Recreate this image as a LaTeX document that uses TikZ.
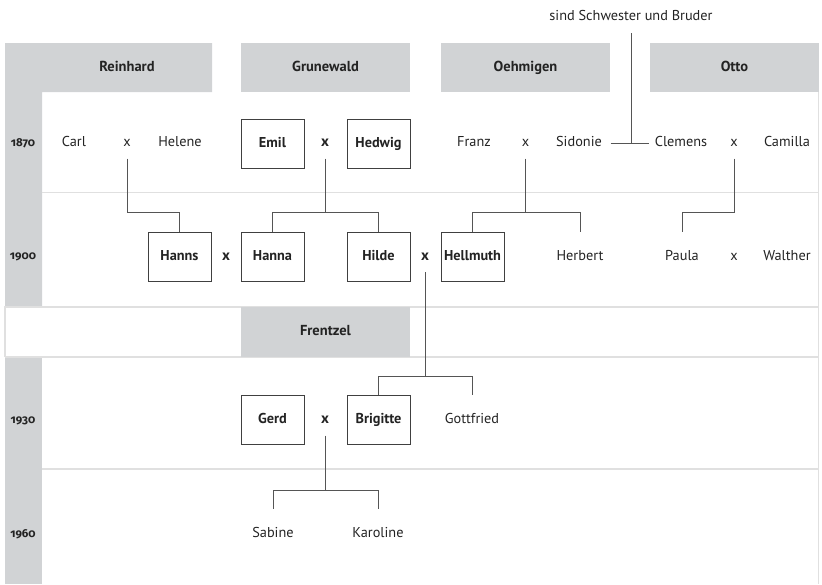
\documentclass[tikz,border=0pt]{standalone}
\usepackage{fontspec}
\setmainfont{PT Sans}
\newfontfamily\yearfont[Numbers=OldStyle]{Fira Sans}
\usepackage{tikz}
\usetikzlibrary{positioning,calc}
\definecolor{headgray}{RGB}{209,211,213}
\definecolor{rulegray}{RGB}{224,224,224}
\definecolor{linkgray}{RGB}{85,85,85}
\definecolor{namecol}{RGB}{35,35,35}

\begin{document}
\begin{tikzpicture}[x=1pt,y=-1pt,
	every node/.style={font=\fontsize{14.3}{16}\selectfont,text=namecol,text height=10pt,text depth=3pt},
	person/.style={minimum width=63pt,minimum height=49pt,inner sep=0pt},
	boxed/.style={person,draw=black!75,line width=0.9pt,font=\fontsize{14.3}{16}\selectfont\bfseries},
	marry/.style={minimum height=31pt,inner sep=0pt},
	bmarry/.style={marry,font=\fontsize{15}{16}\selectfont\bfseries},
	head/.style={fill=headgray,minimum width=169pt,minimum height=49pt,inner sep=0pt,font=\fontsize{14.5}{16}\selectfont\bfseries},
	year/.style={font=\yearfont\bfseries\fontsize{11.5}{13}\selectfont,text height=8pt,text depth=2pt},
	rule/.style={draw=rulegray,line width=1.2pt},
	link/.style={draw=linkgray,line width=0.8pt}
	]
	\useasboundingbox (0,0) rectangle (822,584);
	
	% the grey bands
	\fill[headgray] (5,43) -- (212,43) -- (212,92) -- (42,92) -- (42,307) -- (5,307) -- cycle;
	\fill[headgray] (5,357) rectangle (42,584);
	
	% the rules
	\draw[rule] (818.5,92) -- (818.5,584);
	\draw[rule] (42,192.5) -- (818.5,192.5);
	\draw[rule] (5,357) -- (5,307) -- (818.5,307);
	\draw[rule] (5,357) -- (818.5,357);
	\draw[rule] (42,469) -- (818.5,469);
	
	% the families
	\node[head] (reinhard) at (127,67.5) {Reinhard};
	\node[head] (grunewald) at (325.5,67.5) {Grunewald};
	\node[head] (oehmigen) at (525.5,67.5) {Oehmigen};
	\node[head] (otto) at (734.5,67.5) {Otto};
	\node[head,minimum height=50pt] (frentzel) at (325.5,332) {Frentzel};
	
	% the years
	\node[year] (y1870) at (23,143) {1870};
	\node[year] (y1900) at (23,256.5) {1900};
	\node[year] (y1930) at (23,420) {1930};
	\node[year] (y1960) at (23,534) {1960};
	
	% the generation of 1870
	\node[person] (carl) at (74,143) {Carl};
	\node[marry] (m1) at (127,143) {x};
	\node[person] (helene) at (180,143) {Helene};
	\node[boxed] (emil) at (272.5,143.5) {Emil};
	\node[bmarry] (m2) at (325,143) {x};
	\node[boxed] (hedwig) at (378.5,143.5) {Hedwig};
	\node[person] (franz) at (474,143) {Franz};
	\node[marry] (m3) at (525.5,143) {x};
	\node[person] (sidonie) at (579,143) {Sidonie};
	\node[person] (clemens) at (681,143) {Clemens};
	\node[marry] (m4) at (734,143) {x};
	\node[person] (camilla) at (787,143) {Camilla};
	\node[inner sep=0pt,minimum height=32pt] (note) at (631,17) {sind Schwester und Bruder};
	
	% the generation of 1900
	\node[boxed] (hanns) at (179.5,256.5) {Hanns};
	\node[bmarry] (m5) at (226,256.5) {x};
	\node[boxed] (hanna) at (272.5,256.5) {Hanna};
	\node[boxed] (hilde) at (378.5,256.5) {Hilde};
	\node[bmarry] (m6) at (425,256.5) {x};
	\node[boxed] (hellmuth) at (472.5,256.5) {Hellmuth};
	\node[person] (herbert) at (580,256.5) {Herbert};
	\node[person] (paula) at (682,256.5) {Paula};
	\node[marry] (m7) at (734,256.5) {x};
	\node[person] (walther) at (787,256.5) {Walther};
	
	% the generation of 1930
	\node[boxed] (gerd) at (272.5,420) {Gerd};
	\node[bmarry] (m8) at (325,420) {x};
	\node[boxed] (brigitte) at (378.5,420) {Brigitte};
	\node[person] (gottfried) at (472,420) {Gottfried};
	
	% the generation of 1960
	\node[person] (sabine) at (273,534) {Sabine};
	\node[person] (karoline) at (378,534) {Karoline};
	
	% the sister and the brother
	\draw[link] (note.south) -- (note.south |- sidonie);
	\draw[link] (sidonie) -- (clemens);
	
	% the children
	\draw[link] (m1.south) |- ([yshift=19pt]hanns.north) -- (hanns.north);
	\draw[link] (m2.south) |- ([yshift=19pt]hanna.north) -- (hanna.north);
	\draw[link] ([yshift=19pt]hanna.north) -| (hilde.north);
	\draw[link] (m3.south) |- ([yshift=19pt]hellmuth.north) -- (hellmuth.north);
	\draw[link] ([yshift=19pt]hellmuth.north) -| (herbert.north);
	\draw[link] (m4.south) |- ([yshift=19pt]paula.north) -- (paula.north);
	\draw[link] (m6.south) |- ([yshift=19pt]brigitte.north) -- (brigitte.north);
	\draw[link] ([yshift=19pt]brigitte.north) -| (gottfried.north);
	\draw[link] (m8.south) |- ([yshift=19pt]sabine.north) -- (sabine.north);
	\draw[link] ([yshift=19pt]sabine.north) -| (karoline.north);
\end{tikzpicture}
\end{document}
